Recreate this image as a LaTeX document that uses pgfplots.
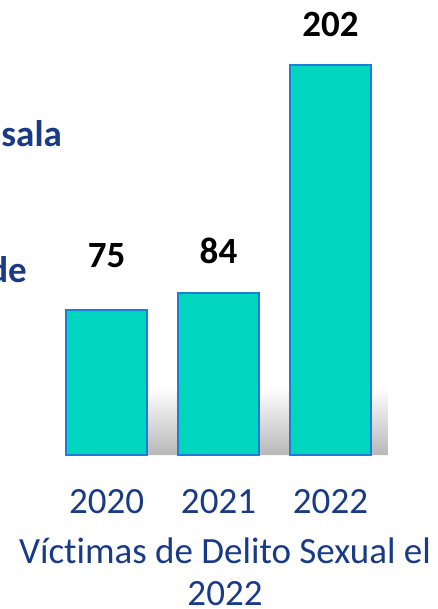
\documentclass[border=0pt]{standalone}
\usepackage{pgfplots}
\pgfplotsset{compat=1.18}
\usepackage{fontspec}
\setmainfont{Carlito}[Ligatures={NoCommon}]
\definecolor{barfill}{RGB}{0,214,190}
\definecolor{barline}{RGB}{30,125,220}
\definecolor{txtblue}{RGB}{24,58,135}
\newcommand{\bigf}{\fontsize{37}{44}\selectfont}
\begin{document}
\begin{tikzpicture}
\begin{axis}[
  name=ax,
  scale only axis,
  width=438pt, height=455pt,
  xmin=-0.951, xmax=2.960,
  ymin=0, ymax=235.75,
  axis line style={draw=none},
  major tick length=0pt,
  ytick=\empty,
  xtick={0,1,2},
  xticklabels={{\mbox{2020}},{\mbox{2021}},{\mbox{2022}}},
  xticklabel style={font=\bigf, text=txtblue, anchor=base, yshift=-58pt},
  /pgf/number format/assume math mode=true,
  clip=false,
]
% soft shadow behind the bars
\addplot[draw=none, top color=white, bottom color=black!28, forget plot]
  coordinates {(-0.33,0) (2.513,0) (2.513,35) (-0.33,35)} \closedcycle;
\addplot[ybar, bar width=81pt, fill=barfill, draw=barline, line width=2.5pt,
  nodes near coords,
  nodes near coords style={font=\bfseries\bigf, text=black, anchor=base, yshift=29pt},
  coordinate style/.condition={\coordindex==0}{yshift=14pt},
] coordinates {(0,75) (1,84) (2,202)};
\node[font=\bfseries\bigf, text=txtblue, anchor=base east, inner sep=0pt] at (axis cs:-0.397,159.6) {sala};
\node[font=\bfseries\bigf, text=txtblue, anchor=base east, inner sep=0pt] at (axis cs:-0.71,89.6) {de};
\node[font=\bigf, text=txtblue, anchor=base, xshift=6pt, yshift=-108pt] at (axis description cs:0.5,0) {Víctimas de Delito Sexual el};
\node[font=\bigf, text=txtblue, anchor=base, xshift=6pt, yshift=-150pt, inner sep=0pt] at (axis description cs:0.5,0) {2022};
\end{axis}
\pgfresetboundingbox
\path[use as bounding box] ([yshift=-154pt]ax.south west) rectangle (ax.north east);
\end{tikzpicture}
\end{document}
